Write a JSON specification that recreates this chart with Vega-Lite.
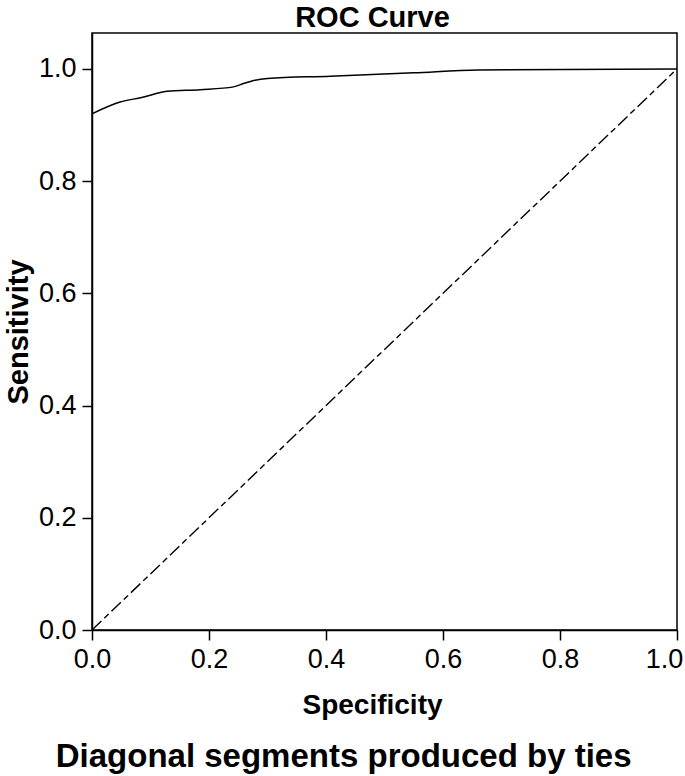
{
  "$schema": "https://vega.github.io/schema/vega-lite/v6.json",
  "background": "white",
  "padding": {"left": 3, "top": 3, "right": 4, "bottom": 2},
  "config": {
    "font": "Liberation Sans",
    "view": {"stroke": "black", "strokeWidth": 1.5},
    "title": {"font": "Liberation Sans", "fontWeight": "bold", "fontSize": 29, "color": "black"},
    "axis": {
      "domainColor": "black", "domainWidth": 1.5, "tickColor": "black", "tickWidth": 1.5, "tickSize": 10,
      "labelFont": "Liberation Sans", "labelFontSize": 27, "labelColor": "black",
      "titleFont": "Liberation Sans", "titleFontSize": 28, "titleFontWeight": "bold", "titleColor": "black",
      "grid": false
    }
  },
  "title": {"text": "Diagonal segments produced by ties", "orient": "bottom", "anchor": "middle", "offset": 21, "fontSize": 33, "dx": 0},
  "vconcat": [
    {
      "title": {"text": "ROC Curve", "anchor": "middle", "offset": 0, "dx": -12},
      "width": 585,
      "height": 597,
      "data": {"values": [
        {"spec": 0.0, "sens": 0.920, "series": "ROC"},
        {"spec": 0.048, "sens": 0.941, "series": "ROC"},
        {"spec": 0.085, "sens": 0.949, "series": "ROC"},
        {"spec": 0.128, "sens": 0.960, "series": "ROC"},
        {"spec": 0.185, "sens": 0.963, "series": "ROC"},
        {"spec": 0.242, "sens": 0.968, "series": "ROC"},
        {"spec": 0.259, "sens": 0.974, "series": "ROC"},
        {"spec": 0.275, "sens": 0.979, "series": "ROC"},
        {"spec": 0.300, "sens": 0.983, "series": "ROC"},
        {"spec": 0.407, "sens": 0.987, "series": "ROC"},
        {"spec": 0.550, "sens": 0.993, "series": "ROC"},
        {"spec": 0.660, "sens": 0.998, "series": "ROC"},
        {"spec": 1.0, "sens": 1.0, "series": "ROC"},
        {"spec": 0.0, "sens": 0.0, "series": "Ref"},
        {"spec": 1.0, "sens": 1.0, "series": "Ref"}
      ]},
      "layer": [
        {
          "transform": [{"filter": "datum.series === 'Ref'"}],
          "mark": {"type": "line", "color": "black", "strokeWidth": 1.4, "strokeDash": [13, 4, 6, 4], "clip": true},
          "encoding": {
            "x": {"field": "spec", "type": "quantitative"},
            "y": {"field": "sens", "type": "quantitative"}
          }
        },
        {
          "transform": [{"filter": "datum.series === 'ROC'"}],
          "mark": {"type": "line", "color": "black", "strokeWidth": 1.5, "interpolate": "monotone", "clip": true},
          "encoding": {
            "x": {"field": "spec", "type": "quantitative", "title": "Specificity",
              "scale": {"domain": [0, 1], "nice": false, "zero": false},
              "axis": {"values": [0, 0.2, 0.4, 0.6, 0.8, 1.0], "format": ".1f", "labelPadding": 6, "titlePadding": 19, "titleX": 280, "labelFlush": false,
                "labelOffset": {"condition": {"test": "datum.value == 1", "value": -13}, "value": 0}}},
            "y": {"field": "sens", "type": "quantitative", "title": "Sensitivity",
              "scale": {"domain": [0, 1.064], "nice": false, "zero": false},
              "axis": {"values": [0, 0.2, 0.4, 0.6, 0.8, 1.0], "format": ".1f", "labelPadding": 6, "titlePadding": 5, "labelFlush": false, "titleFontSize": 29}}
          }
        }
      ]
    }
  ]
}
